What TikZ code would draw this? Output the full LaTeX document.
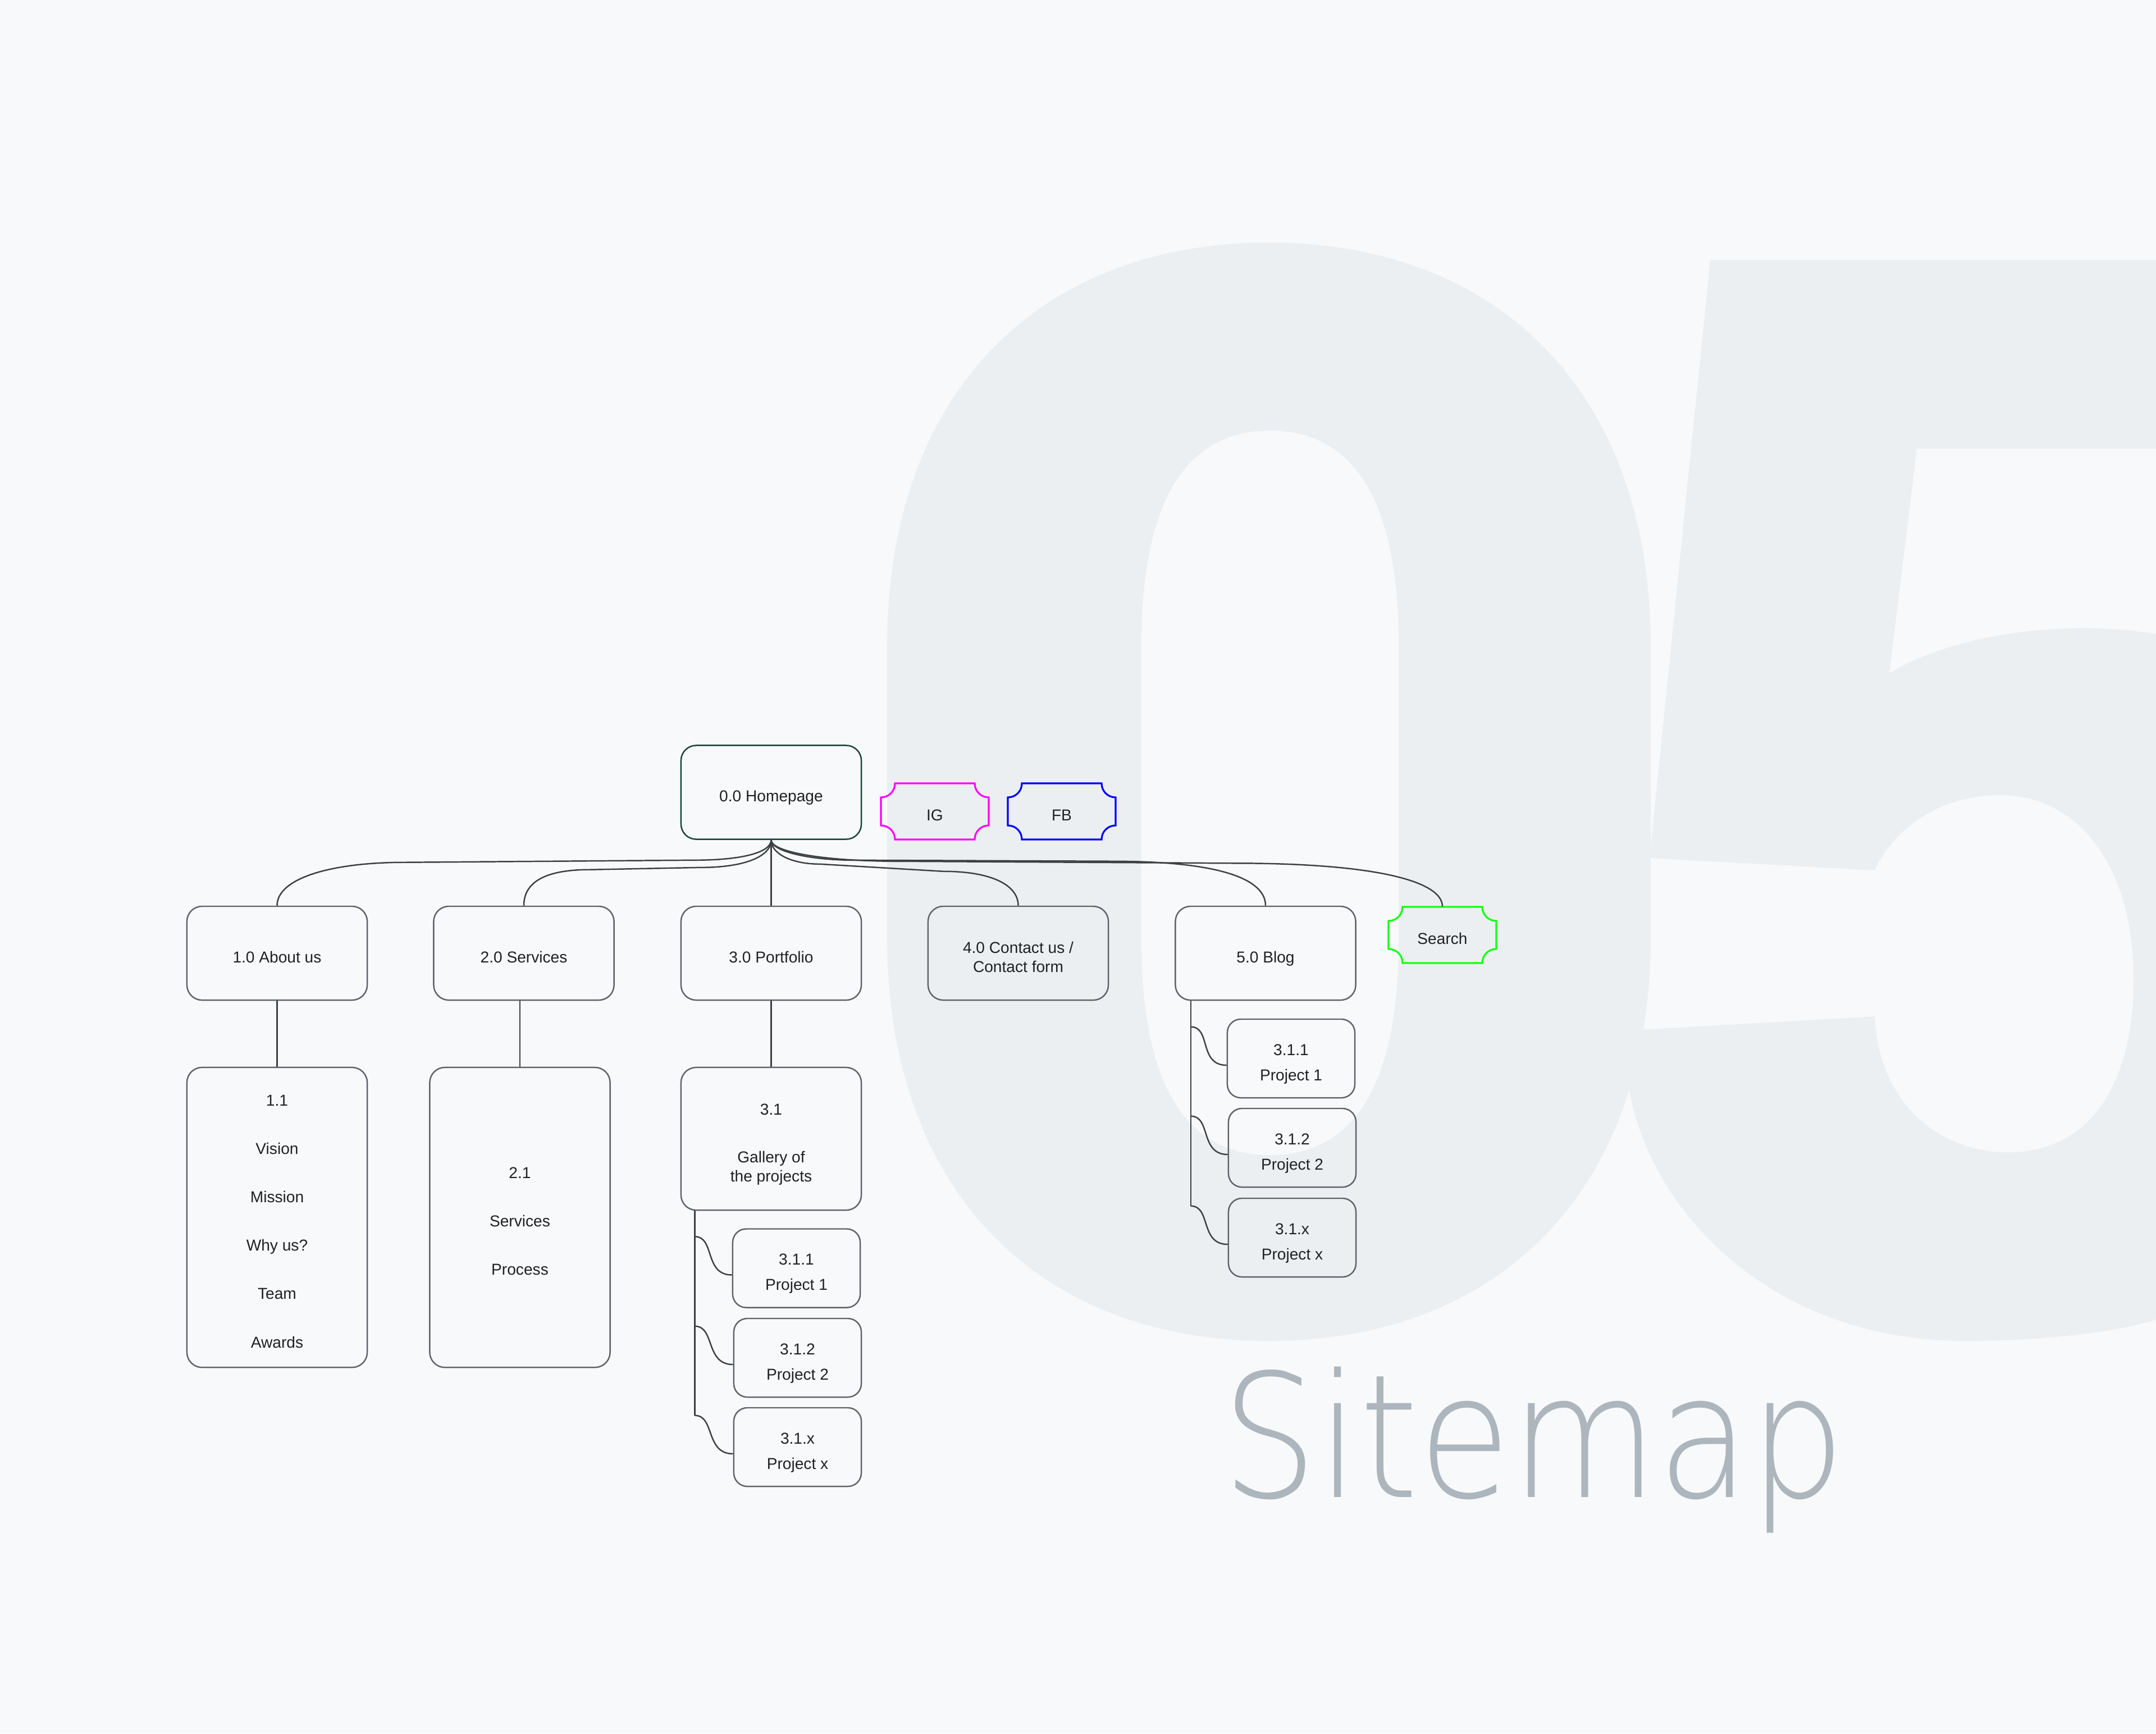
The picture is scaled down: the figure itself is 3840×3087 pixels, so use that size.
\documentclass[tikz,border=0pt]{standalone}
\usepackage{fontspec}
\usetikzlibrary{calc}
\newfontfamily\lblfont{Liberation Sans}
\IfFontExistsTF{DejaVu Sans ExtraLight}{%
  \newfontfamily\sitefont{DejaVu Sans ExtraLight}\def\sitescale{0.876}\def\sitesize{87pt}}{%
  \IfFontExistsTF{DejaVuSans-ExtraLight.ttf}{%
    \newfontfamily\sitefont{DejaVuSans-ExtraLight.ttf}\def\sitescale{0.876}\def\sitesize{87pt}}{%
    \newfontfamily\sitefont{Liberation Sans}\def\sitescale{0.925}\def\sitesize{90pt}}}
\newcommand\lbl{\lblfont\fontsize{8pt}{9.7pt}\selectfont}
\newcommand\topstrut{\rule{0pt}{12pt}}
\newcommand\botstrut{\rule[-2.5pt]{0pt}{2.5pt}}
\definecolor{bgc}{RGB}{248,249,250}
\definecolor{numgray}{RGB}{236,239,241}
\definecolor{ink}{RGB}{32,33,36}
\definecolor{boxgray}{RGB}{95,99,104}
\definecolor{linegray}{RGB}{60,64,67}
\definecolor{homegreen}{RGB}{22,70,56}
\definecolor{igmag}{RGB}{255,0,255}
\definecolor{fbblue}{RGB}{0,0,255}
\definecolor{srchgreen}{RGB}{20,255,20}
\definecolor{sitegray}{RGB}{173,181,189}
\newcommand\ticketnode[5]{%
  \node[ticket] (#1) at (#2,#3) {#5};
  \draw[#4, line width=0.9pt] (#2-71,#3-50) -- (#2+71,#3-50)
    .. controls (#2+71,#3-36) and (#2+82,#3-25) .. (#2+96,#3-25) -- (#2+96,#3+25)
    .. controls (#2+82,#3+25) and (#2+71,#3+36) .. (#2+71,#3+50) -- (#2-71,#3+50)
    .. controls (#2-71,#3+36) and (#2-82,#3+25) .. (#2-96,#3+25) -- (#2-96,#3-25)
    .. controls (#2-82,#3-25) and (#2-71,#3-36) .. (#2-71,#3-50) -- cycle;}
\begin{document}
\begin{tikzpicture}[x={(0.01cm,0)}, y={(0,-0.01cm)},
  box/.style={draw=boxgray, line width=0.7pt, rounded corners=0.27cm,
    minimum width=3.21cm, minimum height=1.67cm, align=center, text=ink,
    font=\lbl, inner sep=0pt,
    execute at begin node=\topstrut, execute at end node=\botstrut},
  homebox/.style={box, draw=homegreen},
  leaf/.style={box, minimum width=2.27cm, minimum height=1.4cm, rounded corners=0.24cm},
  ticket/.style={minimum width=1.92cm, minimum height=1cm, inner sep=0pt, text=ink, font=\lbl,
    execute at begin node=\topstrut, execute at end node=\botstrut},
  conn/.style={draw=linegray, line width=0.7pt}]
\useasboundingbox (0,0) rectangle (3840,3087);
\fill[bgc] (0,0) rectangle (3840,3087);
% big "0"
\fill[numgray] (1580,1150) .. controls (1580,700) and (1850,432) .. (2260,432)
  .. controls (2670,432) and (2940,700) .. (2940,1150) -- (2940,1670)
  .. controls (2940,2120) and (2670,2388) .. (2260,2388)
  .. controls (1850,2388) and (1580,2120) .. (1580,1670) -- cycle;
\fill[bgc] (2033,1150) .. controls (2033,880) and (2120,767) .. (2262,767)
  .. controls (2404,767) and (2491,880) .. (2491,1150) -- (2491,1674)
  .. controls (2491,1944) and (2404,2057) .. (2262,2057)
  .. controls (2120,2057) and (2033,1944) .. (2033,1674) -- cycle;
% big "5"
\fill[numgray] (3046,463) -- (3840,463) -- (3840,799) -- (3414,799) -- (3365,1199)
  .. controls (3470,1135) and (3660,1100) .. (3840,1129) -- (3840,2350)
  .. controls (3780,2370) and (3650,2388) .. (3500,2388)
  .. controls (3150,2388) and (2930,2150) .. (2899,1924) -- (2919,1834) -- (3339,1810)
  .. controls (3345,1960) and (3450,2052) .. (3576,2052)
  .. controls (3730,2052) and (3800,1920) .. (3800,1745)
  .. controls (3800,1540) and (3700,1416) .. (3563,1416)
  .. controls (3450,1416) and (3370,1480) .. (3339,1550) -- (2938,1528) -- cycle;
% nodes
\node[homebox] (home) at (1373.5,1411) {0.0 Homepage};
\node[box] (about) at (493.5,1697.5) {1.0 About us};
\node[box] (serv) at (933,1697.5) {2.0 Services};
\node[box] (port) at (1373.5,1697.5) {3.0 Portfolio};
\node[box] (contact) at (1813.5,1697.5) {\topstrut 4.0 Contact us /\\Contact form};
\node[box] (blog) at (2254,1697.5) {5.0 Blog};
\node[box, minimum height=5.34cm] (about11) at (493.5,2168)
  {\topstrut 1.1\\[14.8pt]Vision\\[14.8pt]Mission\\[14.8pt]Why us?\\[14.8pt]Team\\[14.8pt]Awards};
\node[box, minimum height=5.34cm] (serv21) at (926,2168)
  {\topstrut 2.1\\[14.8pt]Services\\[14.8pt]Process};
\node[box, minimum height=2.54cm] (p31) at (1373.5,2028)
  {\topstrut 3.1\\[14.5pt]Gallery of\\the projects};
\node[leaf] (p311) at (1418.5,2258.5) {\topstrut 3.1.1\\[3pt]Project 1};
\node[leaf] (p312) at (1420.5,2418) {\topstrut 3.1.2\\[3pt]Project 2};
\node[leaf] (p31x) at (1420.5,2577) {\topstrut 3.1.x\\[3pt]Project x};
\node[leaf] (b1) at (2299.5,1885) {\topstrut 3.1.1\\[3pt]Project 1};
\node[leaf] (b2) at (2301.5,2044) {\topstrut 3.1.2\\[3pt]Project 2};
\node[leaf] (bx) at (2301.5,2204) {\topstrut 3.1.x\\[3pt]Project x};
\ticketnode{ig}{1665}{1445}{igmag}{IG}
\ticketnode{fb}{1891}{1445}{fbblue}{FB}
\ticketnode{search}{2569}{1665}{srchgreen}{Search}
% connectors from homepage
\draw[conn] (home.south) -- (port.north);
\draw[conn] (home.south) .. controls +(0,21) and +(90,0) .. ($(home.south)+(-137,36)$)
  -- ($(about.north)+(227,-77)$) .. controls +(-130,0) and +(0,-49) .. (about.north);
\draw[conn] (home.south) .. controls +(0,30) and +(75,0) .. ($(home.south)+(-124,49)$)
  -- ($(serv.north)+(117,-64)$) .. controls +(-75,0) and +(0,-44) .. (serv.north);
\draw[conn] (home.south) .. controls +(0,25) and +(-50,0) .. ($(home.south)+(87,43)$)
  -- ($(contact.north)+(-134,-61)$) .. controls +(90,0) and +(0,-35) .. (contact.north);
\draw[conn] (home.south) .. controls +(0,20) and +(-80,0) .. ($(home.south)+(147,36)$)
  -- ($(blog.north)+(-274,-79)$) .. controls +(200,0) and +(0,-45) .. (blog.north);
\draw[conn] (home.south) .. controls +(0,22) and +(-130,0) .. ($(home.south)+(227,38)$)
  -- ($(search.north)+(-369,-77)$) .. controls +(250,0) and +(0,-45) .. (search.north);
% vertical links
\draw[conn] (about.south) -- (about11.north);
\draw[conn] (serv21.north) -- (serv21.north |- serv.south);
\draw[conn] (port.south) -- (p31.north);
% portfolio tree
\coordinate (ptr) at ($(p31.south west)+(26,0)$);
\draw[conn] (ptr) -- ($(ptr |- p31x.north)+(0,15)$);
\foreach \n in {p311,p312,p31x}{
  \draw[conn] ($(ptr |- \n.north)+(0,15)$) .. controls +(36,0) and +(-50,0) .. ($(\n.west)+(0,12)$);}
% blog tree
\coordinate (btr) at ($(blog.south west)+(29,0)$);
\draw[conn] (btr) -- ($(btr |- bx.north)+(0,15)$);
\foreach \n in {b1,b2,bx}{
  \draw[conn] ($(btr |- \n.north)+(0,15)$) .. controls +(36,0) and +(-50,0) .. ($(\n.west)+(0,12)$);}
% title
\node[anchor=base west, inner sep=0pt, text=sitegray] (sitemap) at (2176,2666)
  {\sitefont\fontsize{\sitesize}{\sitesize}\selectfont\scalebox{\sitescale}[1]{Sitemap}};
\end{tikzpicture}
\end{document}
